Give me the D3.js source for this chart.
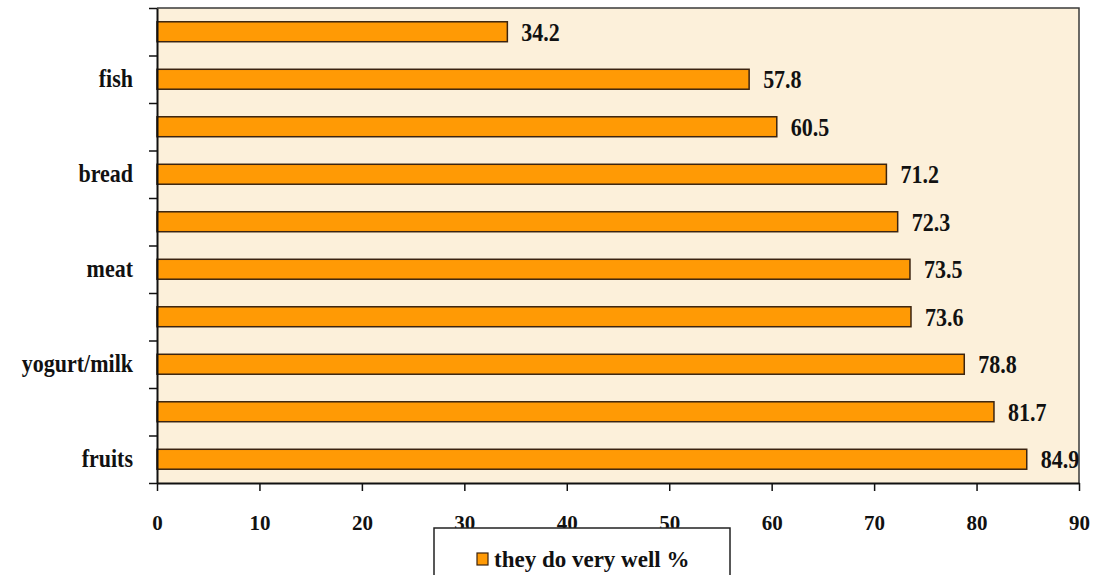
<!DOCTYPE html>
<html>
<head>
<meta charset="utf-8">
<script src="https://cdn.jsdelivr.net/npm/d3@7"></script>
<style>
  html, body { margin: 0; padding: 0; background: #ffffff; }
  svg { display: block; }
</style>
</head>
<body>
<svg id="chart" width="1094" height="575"></svg>
<script>
// ---- data (top to bottom) ----
const categories = ["", "fish", "", "bread", "", "meat", "", "yogurt/milk", "", "fruits"];
const values = [34.2, 57.8, 60.5, 71.2, 72.3, 73.5, 73.6, 78.8, 81.7, 84.9];
const xTicks = [0, 10, 20, 30, 40, 50, 60, 70, 80, 90];
const seriesName = "they do very well %";

const svg = d3.select("#chart");
const margin = { left: 157, top: 8, right: 1079, bottom: 483 };
const font = "'Liberation Serif', 'Times New Roman', serif";

const x = d3.scaleLinear().domain([0, 90]).range([margin.left, margin.right]);
const idx = d3.range(categories.length);
const y = d3.scaleBand().domain(idx).range([margin.top, margin.bottom]).paddingInner(0.58).paddingOuter(0.29);
const yEdges = d3.scaleLinear().domain([0, categories.length]).range([margin.top, margin.bottom]);

// plot background
svg.append("rect")
  .attr("x", margin.left).attr("y", margin.top)
  .attr("width", margin.right - margin.left).attr("height", margin.bottom - margin.top)
  .attr("fill", "#fcf0da");

// frame (top, right)
svg.append("path")
  .attr("d", `M${margin.left},${margin.top}H${margin.right}V${margin.bottom}`)
  .attr("fill", "none").attr("stroke", "#3a3a3a").attr("stroke-width", 1.5);

// bars
svg.append("g").selectAll("rect").data(values).join("rect")
  .attr("x", x(0))
  .attr("y", (d, i) => y(i))
  .attr("width", d => x(d) - x(0))
  .attr("height", y.bandwidth())
  .attr("fill", "#ff9a05")
  .attr("stroke", "#3b2410")
  .attr("stroke-width", 1.5);

// value labels (slightly stretched vertically, as in the reference)
svg.append("g").selectAll("text").data(values).join("text")
  .attr("transform", (d, i) => `translate(${x(d) + 14},${y(i) + y.bandwidth() / 2}) scale(1,1.15)`)
  .attr("dy", "0.35em")
  .attr("font-family", font).attr("font-weight", "bold").attr("font-size", 22)
  .attr("fill", "#111")
  .text(d => d.toFixed(1));

// y axis (ticks at category boundaries)
const yAxis = svg.append("g").attr("transform", `translate(${margin.left},0)`)
  .call(d3.axisLeft(yEdges).tickValues(d3.range(categories.length + 1)).tickFormat("").tickSize(8).tickSizeOuter(0));
yAxis.select(".domain").attr("stroke", "#111").attr("stroke-width", 2);
yAxis.selectAll(".tick line").attr("stroke", "#111").attr("stroke-width", 1.5);

// category labels
svg.append("g").selectAll("text").data(categories).join("text")
  .attr("transform", (d, i) => `translate(${margin.left - 24},${y(i) + y.bandwidth() / 2}) scale(1,1.12)`)
  .attr("dy", "0.32em")
  .attr("text-anchor", "end")
  .attr("font-family", font).attr("font-weight", "bold").attr("font-size", 22)
  .attr("fill", "#111")
  .text(d => d);

// x axis
const xAxis = svg.append("g").attr("transform", `translate(0,${margin.bottom})`)
  .call(d3.axisBottom(x).tickValues(xTicks).tickSize(8).tickSizeOuter(0).tickPadding(24));
xAxis.select(".domain").attr("stroke", "#111").attr("stroke-width", 2);
xAxis.selectAll(".tick line").attr("stroke", "#111").attr("stroke-width", 1.5);
xAxis.selectAll(".tick text")
  .attr("font-family", font).attr("font-weight", "bold").attr("font-size", 21).attr("fill", "#111");

// legend
const lg = svg.append("g");
lg.append("rect").attr("x", 434).attr("y", 528).attr("width", 296).attr("height", 80)
  .attr("fill", "#ffffff").attr("stroke", "#222").attr("stroke-width", 1.5);
lg.append("rect").attr("x", 477).attr("y", 553).attr("width", 11).attr("height", 12)
  .attr("fill", "#ff9a05").attr("stroke", "#3b2410").attr("stroke-width", 1.2);
lg.append("text").attr("x", 494).attr("y", 567)
  .attr("font-family", font).attr("font-weight", "bold").attr("font-size", 23).attr("fill", "#111")
  .text(seriesName);
</script>
</body>
</html>
